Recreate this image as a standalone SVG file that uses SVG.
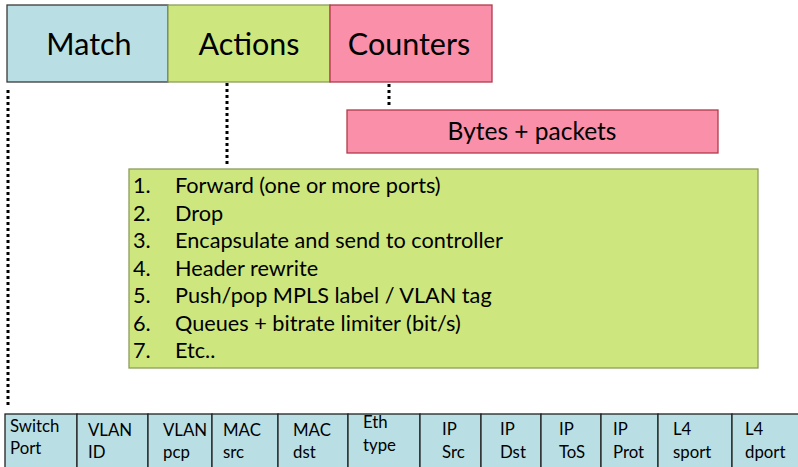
<svg xmlns="http://www.w3.org/2000/svg" width="798" height="467" viewBox="0 0 798 467">
<style>
text{font-family:Lato,"Open Sans","Noto Sans",sans-serif;fill:#000}
.t{font-size:30.5px;text-anchor:middle}
.b{font-size:24.5px;text-anchor:middle}
.l{font-size:21.7px}
.c{font-size:16.8px}
.blue{fill:#b9dfe4;stroke:#3a3a3a;stroke-width:1.3}
.green{fill:#cde77e;stroke:#8c9e5a;stroke-width:1.3}
.pink{fill:#f98fa8;stroke:#b23a4c;stroke-width:1.3}
.dot{stroke:#000;stroke-width:3;stroke-dasharray:3 3;fill:none}
.cell{fill:#b9dfe4;stroke:#222;stroke-width:1.3}
</style>
<g id="connectors">
<line class="dot" x1="8" y1="90" x2="8" y2="408"/>
<line class="dot" x1="227" y1="83" x2="227" y2="166"/>
<line class="dot" x1="389" y1="84" x2="389" y2="107"/>
</g>
<g id="match"><rect class="blue" x="7" y="5" width="161" height="77"/><text class="t" x="89" y="55">Match</text></g>
<g id="actions"><rect class="green" x="168" y="5" width="162" height="77"/><text class="t" x="249" y="55">Actions</text></g>
<g id="counters"><rect class="pink" x="330" y="5" width="162" height="77"/><text class="t" x="409" y="55">Counters</text></g>
<g id="bytes"><rect class="pink" x="347" y="110" width="371" height="43"/><text class="b" x="532" y="140">Bytes + packets</text></g>
<g id="action-list"><rect class="green" x="129" y="169" width="629" height="199"/>
<g class="l">
<text x="133" y="193">1.</text><text x="175" y="193">Forward (one or more ports)</text>
<text x="133" y="220.5">2.</text><text x="175" y="220.5">Drop</text>
<text x="133" y="248">3.</text><text x="175" y="248">Encapsulate and send to controller</text>
<text x="133" y="275.5">4.</text><text x="175" y="275.5">Header rewrite</text>
<text x="133" y="303">5.</text><text x="175" y="303">Push/pop MPLS label / VLAN tag</text>
<text x="133" y="330.5">6.</text><text x="175" y="330.5">Queues + bitrate limiter (bit/s)</text>
<text x="133" y="358">7.</text><text x="175" y="358">Etc..</text>
</g></g>
<g id="fields" class="c">
<g id="f-switchport"><rect class="cell" x="5" y="414" width="72" height="60"/><text x="10" y="432">Switch</text><text x="10" y="454">Port</text></g>
<g id="f-vlanid"><rect class="cell" x="77" y="414" width="71" height="60"/><text x="88" y="436">VLAN</text><text x="88" y="458">ID</text></g>
<g id="f-vlanpcp"><rect class="cell" x="148" y="414" width="64" height="60"/><text x="163" y="436">VLAN</text><text x="163" y="458">pcp</text></g>
<g id="f-macsrc"><rect class="cell" x="212" y="414" width="66" height="60"/><text x="223" y="436">MAC</text><text x="223" y="458">src</text></g>
<g id="f-macdst"><rect class="cell" x="278" y="414" width="70" height="60"/><text x="293" y="436">MAC</text><text x="293" y="458">dst</text></g>
<g id="f-ethtype"><rect class="cell" x="348" y="414" width="72" height="60"/><text x="363" y="428">Eth</text><text x="363" y="451">type</text></g>
<g id="f-ipsrc"><rect class="cell" x="420" y="414" width="61" height="60"/><text x="442" y="435">IP</text><text x="442" y="458">Src</text></g>
<g id="f-ipdst"><rect class="cell" x="481" y="414" width="60" height="60"/><text x="500" y="435">IP</text><text x="500" y="458">Dst</text></g>
<g id="f-iptos"><rect class="cell" x="541" y="414" width="60" height="60"/><text x="559" y="435">IP</text><text x="559" y="458">ToS</text></g>
<g id="f-ipprot"><rect class="cell" x="601" y="414" width="57" height="60"/><text x="613" y="435">IP</text><text x="613" y="458">Prot</text></g>
<g id="f-l4sport"><rect class="cell" x="658" y="414" width="74" height="60"/><text x="673" y="435">L4</text><text x="673" y="458">sport</text></g>
<g id="f-l4dport"><rect class="cell" x="732" y="414" width="70" height="60"/><text x="745" y="435">L4</text><text x="745" y="458">dport</text></g>
</g>
</svg>
